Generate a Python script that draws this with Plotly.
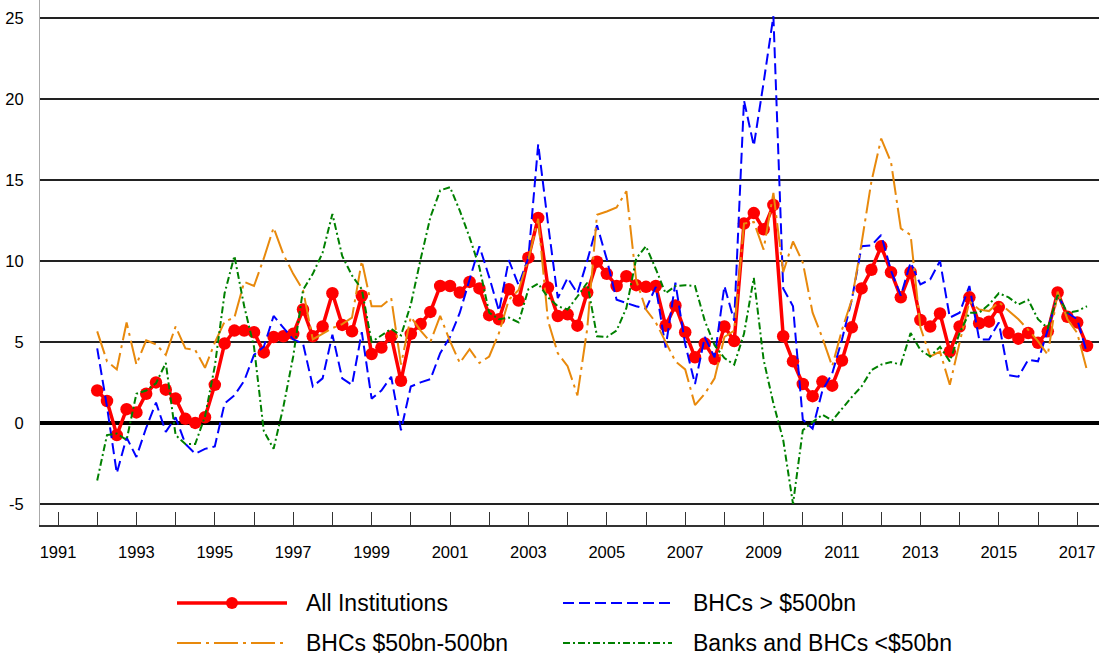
import plotly.graph_objects as go

# ---------------- data (quarterly, 1992Q1 .. 2017Q2) ----------------
start_year = 1992
n_quarters = 102

all_institutions = [
    2.0, 1.35, -0.75, 0.85,
    0.65, 1.8, 2.5, 2.05,
    1.5, 0.25, 0.0, 0.35,
    2.35, 4.9, 5.7, 5.7,
    5.6, 4.35, 5.3, 5.35,
    5.5, 7.0, 5.35, 5.95,
    8.0, 6.05, 5.65, 7.85,
    4.25, 4.65, 5.35, 2.6,
    5.5, 6.1, 6.85, 8.45,
    8.45, 8.05, 8.7, 8.3,
    6.65, 6.4, 8.25, 7.55,
    10.2, 12.65, 8.35, 6.6,
    6.7, 6.0, 8.05, 9.95,
    9.2, 8.45, 9.05, 8.5,
    8.4, 8.45, 6.0, 7.25,
    5.6, 4.05, 4.9, 3.95,
    5.95, 5.05, 12.3, 12.95,
    11.95, 13.45, 5.35, 3.8,
    2.4, 1.65, 2.55, 2.3,
    3.85, 5.9, 8.3, 9.45,
    10.9, 9.3, 7.75, 9.3,
    6.35, 5.95, 6.75, 4.4,
    5.95, 7.75, 6.15, 6.25,
    7.15, 5.55, 5.2, 5.55,
    4.95, 5.65, 8.05, 6.55,
    6.2, 4.75,
]

bhc_over_500 = [
    4.6, 1.0, -3.1, -0.9,
    -2.1, -0.3, 1.25, -0.55,
    0.35, -1.3, -1.9, -1.6,
    -1.45, 1.2, 1.7, 2.6,
    4.2, 4.7, 6.6, 5.9,
    5.15, 4.9, 2.25, 2.75,
    5.45, 2.75, 2.35, 5.6,
    1.5, 2.0, 2.85, -0.45,
    2.25, 2.5, 2.7, 4.3,
    5.3, 6.8, 8.9, 10.9,
    9.0, 6.9, 10.05, 8.5,
    10.2, 17.2, 12.3, 7.7,
    8.95, 8.0, 10.0, 12.2,
    10.1, 7.6, 7.4, 7.2,
    7.05, 8.4, 4.65, 8.65,
    4.85, 2.4, 5.3, 4.05,
    8.45, 6.3, 19.9, 17.1,
    21.0, 25.1, 8.3, 7.2,
    0.2, -0.35, 2.0, 3.05,
    5.15, 7.6, 10.9, 10.95,
    11.6, 9.4, 7.85, 9.9,
    8.55, 8.85, 10.0, 6.5,
    6.8, 8.45, 5.15, 5.15,
    6.2, 2.95, 2.85, 3.9,
    3.8, 5.75, 7.9, 6.8,
    6.4, 4.3,
]

bhc_50_500 = [
    5.65, 3.8, 3.3, 6.2,
    3.6, 5.1, 4.85, 4.2,
    5.95, 4.6, 4.5, 3.4,
    4.95, 6.25, 6.5, 8.7,
    8.45, 10.15, 12.05, 10.4,
    9.2, 8.2, 5.15, 5.5,
    5.85, 6.1, 6.5, 10.0,
    7.2, 7.2, 7.7, 3.6,
    6.55, 5.7, 5.0, 6.6,
    5.05, 3.7, 4.55, 3.7,
    4.1, 5.55, 7.6, 8.2,
    10.1, 12.6, 6.3, 4.3,
    3.5, 1.7, 5.8, 12.85,
    13.05, 13.3, 14.3, 8.8,
    7.0, 6.2, 5.0, 3.8,
    3.3, 1.1, 1.8, 2.75,
    5.3, 5.7, 12.3, 12.4,
    10.7, 14.2, 9.3, 11.2,
    9.9, 6.8, 5.25, 3.5,
    5.75, 7.6, 11.1, 14.9,
    17.55, 16.1, 12.0, 11.6,
    5.9, 4.1, 4.4, 2.35,
    4.95, 7.5, 7.0, 6.9,
    7.45, 6.9, 6.4, 5.75,
    5.05, 4.2, 8.1, 6.4,
    5.55, 3.25,
]

banks_under_50 = [
    -3.55, -0.75, -0.65, -1.05,
    1.8, 2.0, 2.45, 3.7,
    -0.75, -1.3, -1.3, 0.4,
    3.5, 8.0, 10.3, 7.2,
    4.7, -0.5, -1.6, 1.0,
    4.1, 8.2, 9.2, 10.5,
    12.9, 10.3, 9.1, 8.25,
    5.0, 5.4, 5.8, 5.4,
    7.3, 10.1, 12.7, 14.35,
    14.55, 13.1, 11.45, 9.6,
    6.8, 6.4, 6.5, 6.2,
    8.25, 8.6, 7.75, 7.2,
    7.0, 7.8, 8.65, 5.35,
    5.3, 5.7, 7.1, 10.15,
    10.9, 9.5, 8.0, 8.45,
    8.5, 8.45, 6.3, 4.8,
    4.0, 3.6, 5.5, 8.95,
    3.9, 1.2, -1.05, -5.0,
    -0.45, 0.05, 0.5, 0.15,
    0.9, 1.6, 2.25, 3.25,
    3.6, 3.75, 3.6, 5.55,
    4.5, 4.1, 4.7, 3.8,
    5.55, 6.8, 6.8, 7.3,
    8.0, 7.75, 7.3, 7.6,
    6.4, 5.85, 7.9, 6.8,
    6.9, 7.2,
]

tick_years = list(range(1991, 2018))
tick_labels = [str(y) if y % 2 == 1 else "" for y in tick_years]
y_ticks = [-5, 0, 5, 10, 15, 20, 25]
y_tick_labels = ["-5", "0", "5", "10", "15", "20", "25"]

series_names = ["All Institutions", "BHCs > $500bn", "BHCs $50bn-500bn", "Banks and BHCs <$50bn"]
series_colors = ["#ff0000", "#0000ff", "#e8890c", "#008000"]

# quarter positions in decimal years
xq = [start_year + i / 4 for i in range(n_quarters)]

# ---------------- figure ----------------
FONT = "Liberation Sans, Arial, sans-serif"
W, H = 1099, 660
ML, MR, MT, MB = 40, 0, 0, 135
PW, PH = W - ML - MR, H - MT - MB

dash_blue = "11px,5px"
dash_orange = "24px,5px,3px,5px"
dash_green = "7px,3px,2px,3px"

fig = go.Figure()
fig.add_trace(go.Scatter(x=xq, y=all_institutions, name=series_names[0], mode="lines+markers",
                         line=dict(color=series_colors[0], width=3.5),
                         marker=dict(color=series_colors[0], size=12.5)))
fig.add_trace(go.Scatter(x=xq, y=bhc_over_500, name=series_names[1], mode="lines",
                         line=dict(color=series_colors[1], width=2, dash=dash_blue)))
fig.add_trace(go.Scatter(x=xq, y=bhc_50_500, name=series_names[2], mode="lines",
                         line=dict(color=series_colors[2], width=2, dash=dash_orange)))
fig.add_trace(go.Scatter(x=xq, y=banks_under_50, name=series_names[3], mode="lines",
                         line=dict(color=series_colors[3], width=2, dash=dash_green)))

# x range chosen so that 1991 sits ~18px from the left edge
px_per_year = 39.2
x0 = 1991 - 18 / px_per_year
x1 = x0 + PW / px_per_year

fig.update_xaxes(range=[x0, x1], tickmode="array", tickvals=tick_years, ticktext=tick_labels,
                 ticks="inside", ticklen=13, tickwidth=1, tickcolor="#333333",
                 showgrid=False, zeroline=False, showline=True, linecolor="#333333", linewidth=1.5,
                 tickfont=dict(family=FONT, size=16.5, color="black"), ticklabelstandoff=11)
fig.update_yaxes(range=[-6.3, 26.1], tickmode="array", tickvals=y_ticks, ticktext=y_tick_labels,
                 showgrid=True, gridcolor="#222222", gridwidth=1.5,
                 zeroline=True, zerolinecolor="black", zerolinewidth=3.5,
                 showline=True, linecolor="#aaaaaa", linewidth=1, ticks="",
                 tickfont=dict(family=FONT, size=16.5, color="black"), ticklabelstandoff=12)


def px2paper_x(px):
    return (px - ML) / PW


def px2paper_y(py):
    return (H - MB - py) / PH


legend_rows = [603, 643]
legend_cols = [(177, 287, 304), (563, 672, 691)]
legend_dash = ["solid", dash_blue, dash_orange, dash_green]
legend_width = [3.5, 2, 2, 2]
for i, name in enumerate(series_names):
    r, c = divmod(i, 2)
    xa, xb, xt = legend_cols[c]
    yy = px2paper_y(legend_rows[r])
    fig.add_shape(type="line", xref="paper", yref="paper",
                  x0=px2paper_x(xa), x1=px2paper_x(xb), y0=yy, y1=yy,
                  line=dict(color=series_colors[i], width=legend_width[i], dash=legend_dash[i]))
    if i == 0:
        xm = (xa + xb) / 2
        rad = 6
        fig.add_shape(type="circle", xref="paper", yref="paper",
                      x0=px2paper_x(xm - rad), x1=px2paper_x(xm + rad),
                      y0=px2paper_y(legend_rows[r] + rad), y1=px2paper_y(legend_rows[r] - rad),
                      fillcolor=series_colors[0], line=dict(color=series_colors[0], width=0))
    fig.add_annotation(xref="paper", yref="paper", x=px2paper_x(xt), y=yy, text=name,
                       showarrow=False, xanchor="left", yanchor="middle",
                       font=dict(family=FONT, size=23, color="black"))

fig.update_layout(width=W, height=H, margin=dict(l=ML, r=MR, t=MT, b=MB),
                  plot_bgcolor="white", paper_bgcolor="white", showlegend=False)

fig.write_html("out.html", config={"displayModeBar": False},
               post_script="document.body.style.margin='0';document.body.style.overflow='hidden';")
